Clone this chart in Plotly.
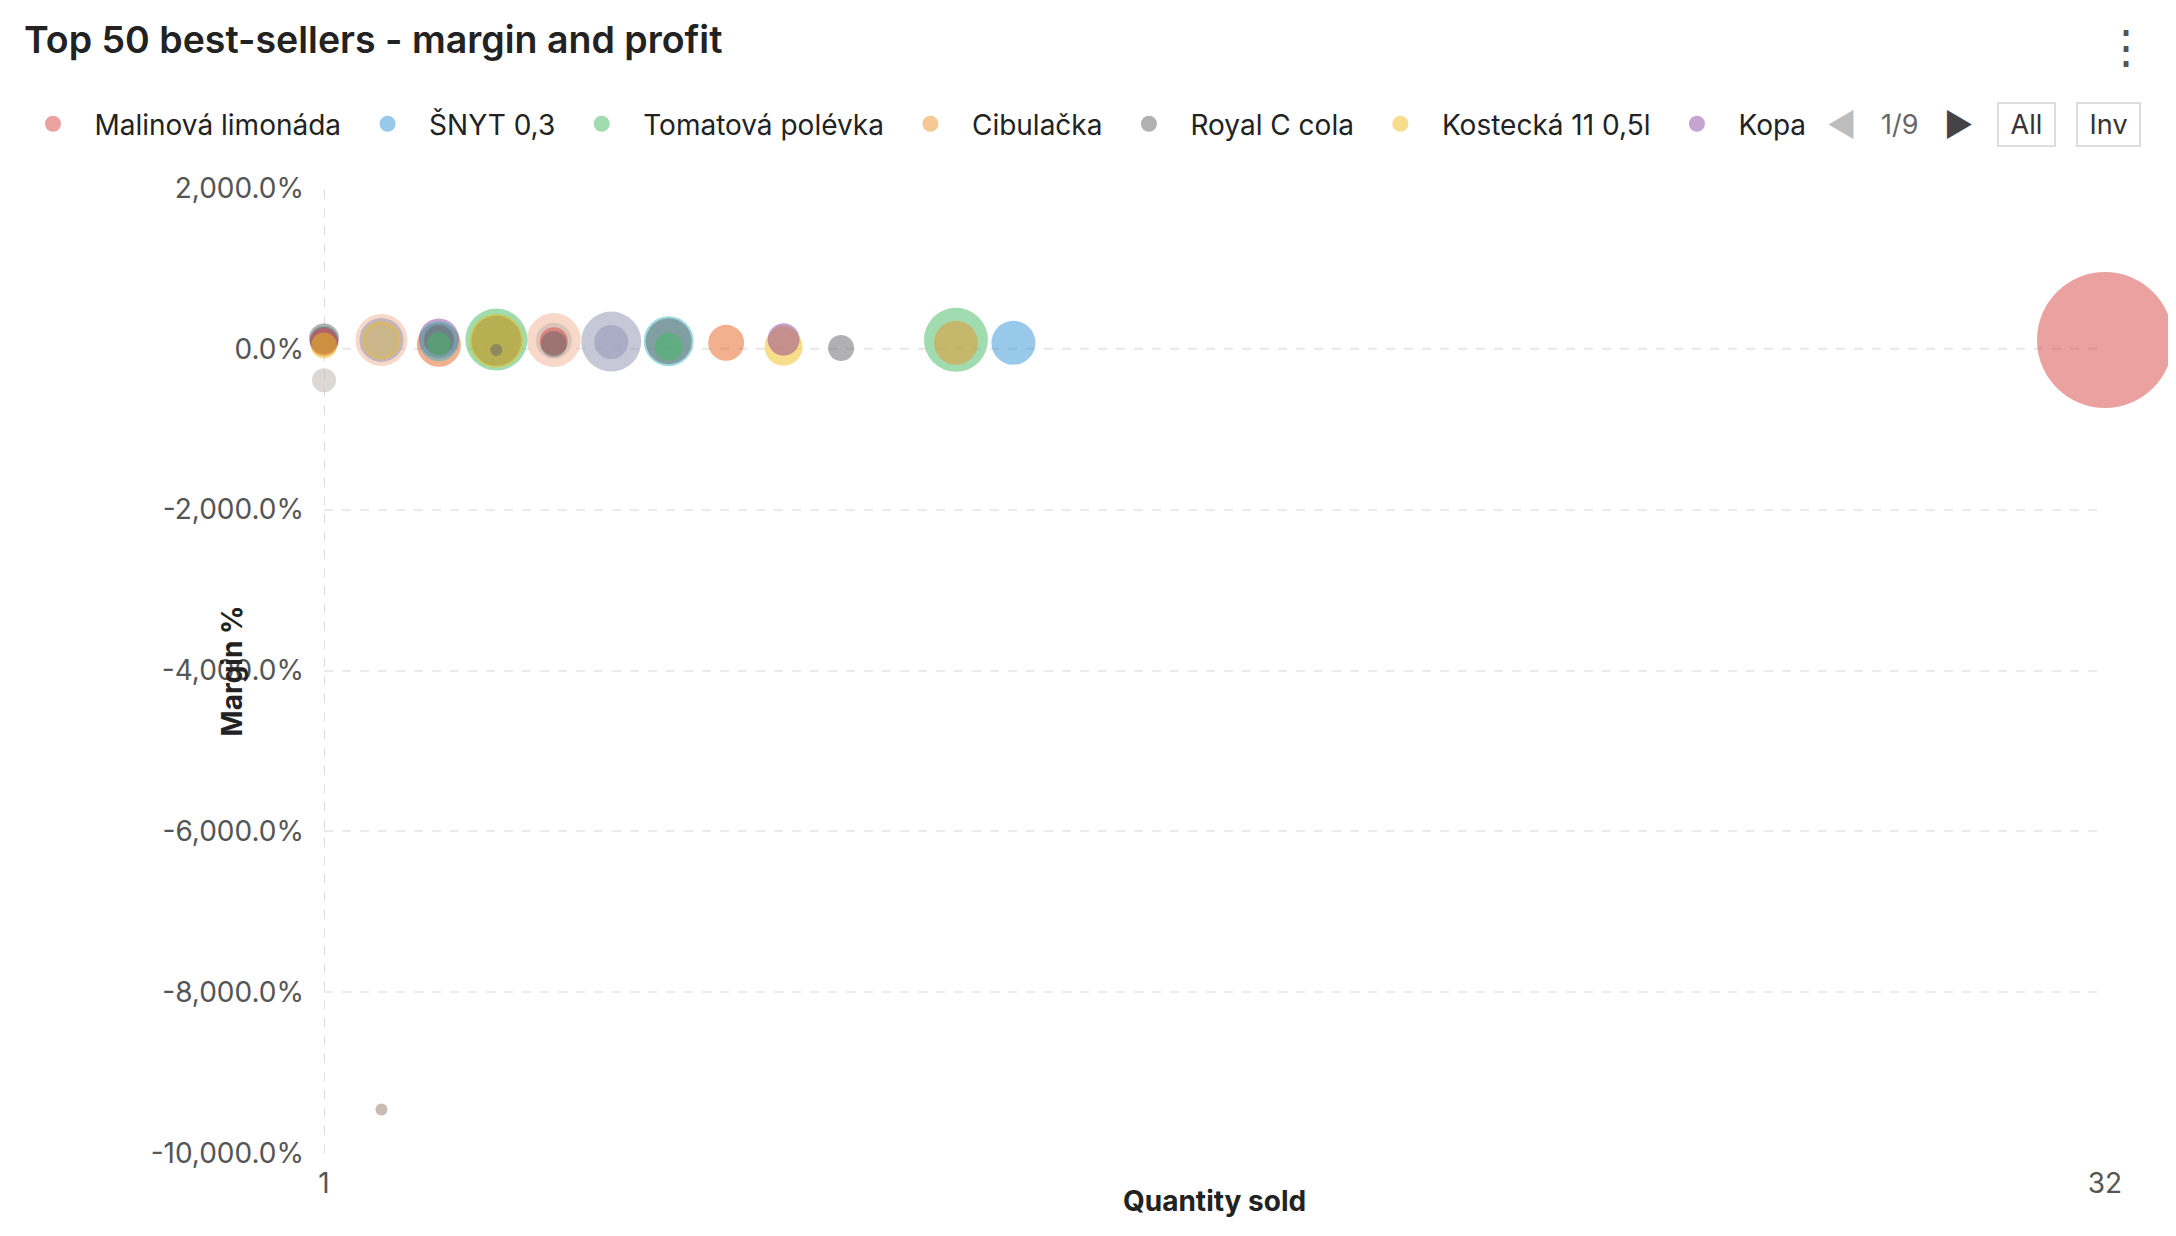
import plotly.graph_objects as go

# top 50 best-sellers (only the visible bubbles), sorted by quantity
products = [
    "Malinová limonáda", "ŠNYT 0,3", "Tomatová polévka", "Cibulačka",
    "Royal C cola", "Kostecká 11 0,5l", "Kopa",
    "Item 8", "Item 9", "Item 10", "Item 11", "Item 12", "Item 13", "Item 14",
    "Item 15", "Item 16", "Item 17", "Item 18", "Item 19", "Item 20", "Item 21",
    "Item 22", "Item 23", "Item 24", "Item 25", "Item 26", "Item 27", "Item 28",
    "Item 29", "Item 30", "Item 31", "Item 32", "Item 33", "Item 34", "Item 35",
    "Item 36", "Item 37", "Item 38", "Item 39",
]
quantity = [32, 13, 12, 12, 10, 9, 9,
            9, 9, 8, 7, 7, 7, 6,
            6, 5, 5, 5, 5, 4, 4,
            4, 4, 3, 3, 3, 3, 3,
            2, 2, 2, 2, 2, 1, 1,
            1, 1, 1, 1]
margin_pct = [110, 75, 112, 75, 10, 25, 118,
              105, 105, 75, 95, 95, 25, 90,
              85, 110, 100, 95, 60, 115, 100,
              100, -15, 50, 130, 95, 110, 60,
              110, 110, 105, 100, -9460, 130, 110,
              100, 85, 40, -390]
profit = [2720, 880, 1280, 880, 520, 760, 640,
          600, 600, 720, 1000, 920, 560, 1200,
          680, 1080, 720, 560, 520, 1240, 1000,
          1080, 240, 880, 800, 800, 600, 480,
          1040, 880, 760, 640, 240, 600, 560,
          560, 560, 520, 480]

palette = {
    "pink": "#D74341", "blue": "#3193D5", "green": "#43B961", "orange": "#E99327",
    "gray": "#636367", "yellow": "#EDBD19", "purple": "#8B4BA1", "salmon": "#E5611F",
    "peach": "#F1B191", "cyan": "#3DB5BD", "slate": "#8D91B1", "beige": "#BDB1A9",
    "tan": "#917965",
}
color_keys = ["pink", "blue", "green", "orange", "gray", "yellow", "purple",
              "pink", "beige", "salmon", "cyan", "gray", "green", "slate",
              "slate", "peach", "beige", "pink", "gray", "green", "gray",
              "yellow", "gray", "salmon", "purple", "cyan", "gray", "green",
              "peach", "slate", "yellow", "beige", "tan", "gray", "green",
              "purple", "pink", "yellow", "beige"]

SIZEREF = 20  # Kč of profit per px of bubble diameter
FONT = "Inter"

fig = go.Figure()
for i, name in enumerate(products):
    fig.add_trace(go.Scatter(
        x=[quantity[i]], y=[margin_pct[i]], name=name, mode="markers",
        marker=dict(size=[profit[i]], sizemode="diameter", sizeref=SIZEREF,
                    color=palette[color_keys[i]], opacity=0.5, line=dict(width=0)),
        cliponaxis=False, showlegend=i < 7,
        hovertemplate="%{x} ks<br>%{y:,.1f}%<extra>" + name + "</extra>",
    ))

# dashed reference lines for the axes
fig.add_shape(type="line", xref="paper", x0=0, x1=1, yref="y", y0=0, y1=0,
              line=dict(color="#DCDCDC", width=2, dash="dash"), layer="below")
fig.add_shape(type="line", xref="x", x0=1, x1=1, yref="paper", y0=0, y1=1,
              line=dict(color="#DCDCDC", width=2, dash="dash"), layer="below")

y_ticks = [2000, 0, -2000, -4000, -6000, -8000, -10000]
y_labels = [f"{v:,.1f}%" for v in y_ticks]
x_ticks = [1, 32]

fig.update_xaxes(range=[1, 32], tickvals=x_ticks, ticktext=[str(v) for v in x_ticks],
                 showgrid=True, gridcolor="#EBEBEB", gridwidth=2, griddash="dash",
                 zeroline=False, showline=False, ticks="", ticklabelstandoff=11,
                 tickfont=dict(family=FONT, size=28, color="#555"))
fig.update_yaxes(range=[-10000, 2000], tickvals=y_ticks, ticktext=y_labels,
                 showgrid=True, gridcolor="#EBEBEB", gridwidth=2, griddash="dash",
                 zeroline=False, showline=False, ticks="", ticklabelstandoff=19,
                 tickfont=dict(family=FONT, size=28, color="#555"))

fig.add_annotation(text="<b>Quantity sold</b>", xref="paper", yref="paper", x=0.5, y=-0.050,
                   xanchor="center", yanchor="middle", showarrow=False,
                   font=dict(family=FONT, size=28, color="#222"))
fig.add_annotation(text="<b>Margin %</b>", xref="paper", yref="paper", x=-0.0517, y=0.5,
                   xanchor="center", yanchor="middle", textangle=-90, showarrow=False,
                   font=dict(family=FONT, size=28, color="#222"))

# legend pager and buttons
pager_y = 1.066
fig.add_annotation(text="◀", xref="paper", yref="paper", x=0.852, y=pager_y, showarrow=False,
                   xanchor="center", yanchor="middle", font=dict(size=32, color="#BDBDBD"))
fig.add_annotation(text="1/9", xref="paper", yref="paper", x=0.8845, y=pager_y, showarrow=False,
                   xanchor="center", yanchor="middle", font=dict(family=FONT, size=27, color="#666"))
fig.add_annotation(text="▶", xref="paper", yref="paper", x=0.9175, y=pager_y, showarrow=False,
                   xanchor="center", yanchor="middle", font=dict(size=32, color="#444"))
for label, px in [("All", 0.9558), ("Inv", 1.002)]:
    fig.add_annotation(text="\u00a0" + label + "\u00a0", xref="paper", yref="paper", x=px, y=pager_y,
                       showarrow=False, xanchor="center", yanchor="middle",
                       font=dict(family=FONT, size=27, color="#333"),
                       bordercolor="#DDDDDD", borderwidth=2, borderpad=4)
fig.add_annotation(text="⋮", xref="paper", yref="paper", x=1.012, y=1.147, showarrow=False,
                   xanchor="center", yanchor="middle", font=dict(size=46, color="#555"))

fig.update_layout(
    width=2160, height=1220,
    title=dict(text="Top 50 best-sellers - margin and profit", xref="container", yref="container",
               x=16 / 2160, y=1 - 32 / 1220, xanchor="left", yanchor="middle",
               font=dict(family=FONT, size=37.5, color="#222", weight=600)),
    legend=dict(orientation="h", xref="paper", yref="paper", x=-312.5 / 1781, y=1.0663,
                xanchor="left", yanchor="middle", itemwidth=73,
                font=dict(family=FONT, size=28, color="#222"), bgcolor="rgba(0,0,0,0)"),
    margin=dict(l=316, r=63, t=180, b=75, autoexpand=False),
    plot_bgcolor="white", paper_bgcolor="white",
    font=dict(family=FONT),
)

fig.write_html("out.html")
